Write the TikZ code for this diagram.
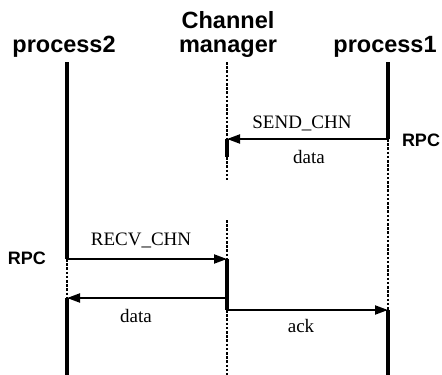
\documentclass[tikz,border=0pt]{standalone}
\usepackage{fontspec}
\setmainfont{Liberation Serif}
\newfontfamily\hvf{Liberation Sans}
\usetikzlibrary{arrows.meta}
\begin{document}
\begin{tikzpicture}[x=1pt,y=-1pt,
 title/.style={font=\hvf\bfseries\fontsize{23.5}{25}\selectfont, inner sep=0pt, anchor=base},
 rpc/.style={font=\hvf\bfseries\fontsize{18}{20}\selectfont, inner sep=0pt},
 lbl/.style={font=\fontsize{19}{21}\selectfont, inner sep=0pt, anchor=base},
 life/.style={line width=3.2pt},
 idle/.style={line width=2.6pt, dash pattern=on 2.6pt off 1.6pt},
 msg/.style={line width=2pt, -{Triangle[length=13pt,width=9pt]}}
]
\useasboundingbox (0,0) rectangle (442,375);
% headers
\node[title] (h2) at (64,52) {process2};
\node[title] (hc1) at (228,28) {Channel};
\node[title] (hc2) at (228,52) {manager};
\node[title] (h1) at (385,52) {process1};
% lifeline points
\coordinate (p2top) at (67,62);
\coordinate (p2a) at (67,259);
\coordinate (p2b) at (67,298);
\coordinate (p2bot) at (67,375);
\coordinate (chtop) at (227,62);
\coordinate (chs) at (227,139);
\coordinate (chse) at (227,157);
\coordinate (chg1) at (227,180);
\coordinate (chg2) at (227,220);
\coordinate (chr) at (227,259);
\coordinate (chd) at (227,298);
\coordinate (chk) at (227,310);
\coordinate (chbot) at (227,375);
\coordinate (p1top) at (388,62);
\coordinate (p1s) at (388,139);
\coordinate (p1k) at (388,310);
\coordinate (p1bot) at (388,375);
% process2
\draw[life] (p2top) -- (p2a);
\draw[idle] (p2a) -- (p2b);
\draw[life] (p2b) -- (p2bot);
% channel manager
\draw[idle] (chtop) -- (chs);
\draw[life] (chs) -- (chse);
\draw[idle] (chse) -- (chg1);
\draw[idle] (chg2) -- (chr);
\draw[life] (chr) -- (chk);
\draw[idle] (chk) -- (chbot);
% process1
\draw[life] (p1top) -- (p1s);
\draw[idle] (p1s) -- (p1k);
\draw[life] (p1k) -- (p1bot);
% messages
\draw[msg] (p1s) -- (chs);
\draw[msg] (p2a) -- (chr);
\draw[msg] (chd) -- (p2b);
\draw[msg] (chk) -- (p1k);
% labels
\node[lbl] (l1) at (302,128) {SEND\_CHN};
\node[lbl] (l2) at (309,163) {data};
\node[rpc] (r1) at (421,140) {RPC};
\node[lbl] (l3) at (141,245) {RECV\_CHN};
\node[rpc] (r2) at (27,258) {RPC};
\node[lbl] (l4) at (136,322) {data};
\node[lbl] (l5) at (301,332) {ack};
\end{tikzpicture}
\end{document}
